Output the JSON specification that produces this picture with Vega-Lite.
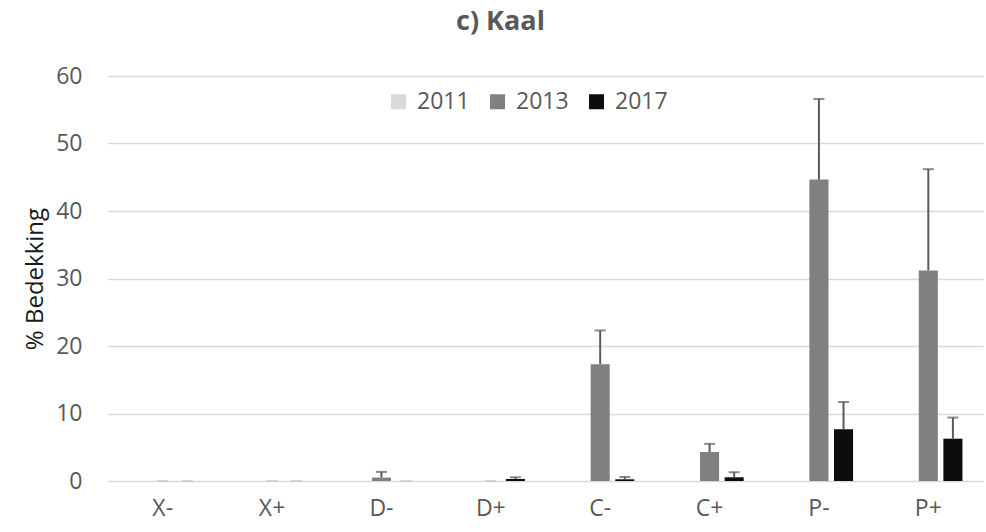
{
  "$schema": "https://vega.github.io/schema/vega-lite/v6.json",
  "autosize": {"type": "none"},
  "width": 875,
  "height": 405,
  "padding": {"left": 108, "top": 76, "right": 3, "bottom": 51},
  "background": "white",
  "config": {
    "view": {"stroke": null},
    "font": "Open Sans",
    "axis": {"labelFont": "Open Sans", "titleFont": "Open Sans"},
    "legend": {"labelFont": "Open Sans"}
  },
  "title": {
    "text": "c) Kaal",
    "fontSize": 27,
    "fontWeight": "bold",
    "color": "#595959",
    "anchor": "middle",
    "dx": -45,
    "offset": 29,
    "font": "Open Sans"
  },
  "data": {
    "values": [
      {"cat": "X-", "year": "2011", "value": null, "upper": null},
      {"cat": "X-", "year": "2013", "value": 0, "upper": 0},
      {"cat": "X-", "year": "2017", "value": 0, "upper": 0},
      {"cat": "X+", "year": "2011", "value": null, "upper": null},
      {"cat": "X+", "year": "2013", "value": 0, "upper": 0},
      {"cat": "X+", "year": "2017", "value": 0, "upper": 0},
      {"cat": "D-", "year": "2011", "value": null, "upper": null},
      {"cat": "D-", "year": "2013", "value": 0.5, "upper": 1.35},
      {"cat": "D-", "year": "2017", "value": 0, "upper": 0},
      {"cat": "D+", "year": "2011", "value": null, "upper": null},
      {"cat": "D+", "year": "2013", "value": 0, "upper": 0},
      {"cat": "D+", "year": "2017", "value": 0.3, "upper": 0.55},
      {"cat": "C-", "year": "2011", "value": null, "upper": null},
      {"cat": "C-", "year": "2013", "value": 17.3, "upper": 22.3},
      {"cat": "C-", "year": "2017", "value": 0.25, "upper": 0.6},
      {"cat": "C+", "year": "2011", "value": null, "upper": null},
      {"cat": "C+", "year": "2013", "value": 4.3, "upper": 5.5},
      {"cat": "C+", "year": "2017", "value": 0.55, "upper": 1.3},
      {"cat": "P-", "year": "2011", "value": null, "upper": null},
      {"cat": "P-", "year": "2013", "value": 44.65, "upper": 56.6},
      {"cat": "P-", "year": "2017", "value": 7.65, "upper": 11.7},
      {"cat": "P+", "year": "2011", "value": null, "upper": null},
      {"cat": "P+", "year": "2013", "value": 31.2, "upper": 46.2},
      {"cat": "P+", "year": "2017", "value": 6.27, "upper": 9.4}
    ]
  },
  "encoding": {
    "x": {
      "field": "cat",
      "type": "nominal",
      "sort": ["X-", "X+", "D-", "D+", "C-", "C+", "P-", "P+"],
      "scale": {"paddingInner": 0, "paddingOuter": 0},
      "axis": {
        "title": null,
        "labelAngle": 0,
        "labelFontSize": 23,
        "labelColor": "#595959",
        "labelPadding": 16,
        "ticks": false,
        "domain": false,
        "grid": false
      }
    },
    "xOffset": {
      "field": "year",
      "type": "nominal",
      "scale": {"domain": ["2011", "2013", "2017"], "paddingInner": 0.224, "paddingOuter": 0.836}
    }
  },
  "layer": [
    {
      "mark": {"type": "bar"},
      "encoding": {
        "y": {
          "field": "value",
          "type": "quantitative",
          "scale": {"domain": [0, 60], "nice": false},
          "axis": {
            "values": [0, 10, 20, 30, 40, 50, 60],
            "title": "% Bedekking",
            "titleFontSize": 24,
            "titleFontWeight": "normal",
            "titleColor": "#1a1a1a",
            "titlePadding": 8,
            "labelFontSize": 23,
            "labelColor": "#595959",
            "labelPadding": 26,
            "ticks": false,
            "domain": false,
            "grid": true,
            "gridColor": "#d9d9d9",
            "gridWidth": 1.3
          }
        },
        "color": {
          "field": "year",
          "type": "nominal",
          "scale": {"domain": ["2011", "2013", "2017"], "range": ["#d9d9d9", "#808080", "#0d0d0d"]},
          "legend": {
            "title": null,
            "orient": "none",
            "direction": "horizontal",
            "legendX": 279,
            "legendY": 14,
            "symbolType": "square",
            "symbolSize": 225,
            "symbolStrokeWidth": 0,
            "labelFontSize": 23,
            "labelColor": "#595959",
            "labelOffset": 7,
            "columnPadding": 16
          }
        }
      }
    },
    {
      "mark": {"type": "rule", "strokeWidth": 2},
      "encoding": {
        "y": {"field": "value", "type": "quantitative"},
        "y2": {"field": "upper"},
        "color": {"value": "#5a5a5a"}
      }
    },
    {
      "mark": {"type": "tick", "orient": "horizontal", "size": 11, "thickness": 2},
      "encoding": {
        "y": {"field": "upper", "type": "quantitative"},
        "color": {"condition": {"test": "datum.upper == 0", "value": "#c8c8c8"}, "value": "#5a5a5a"}
      }
    }
  ]
}
